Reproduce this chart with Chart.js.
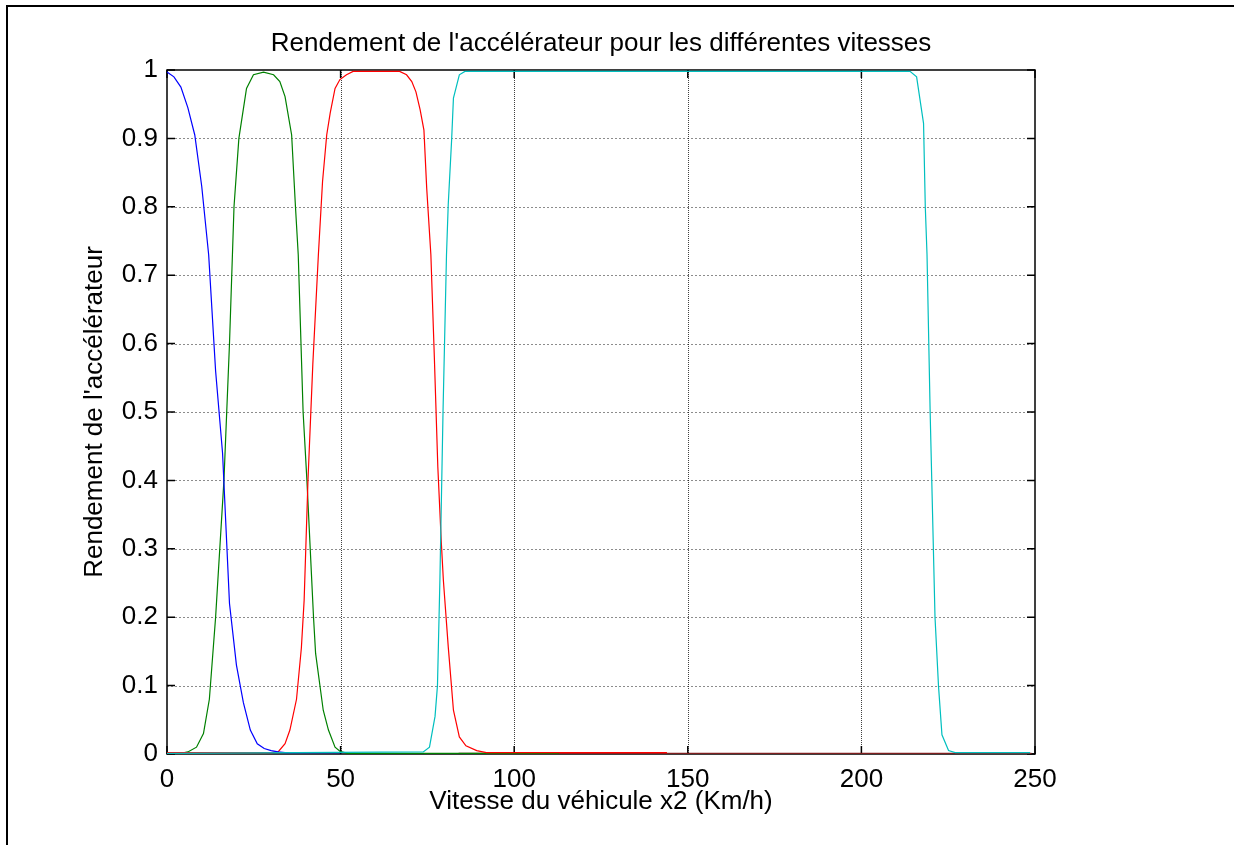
<!DOCTYPE html>
<html>
<head>
<meta charset="utf-8">
<script src="https://cdn.jsdelivr.net/npm/chart.js@4/dist/chart.umd.min.js"></script>
<style>
  html, body { margin: 0; padding: 0; background: #fff; overflow: hidden; }
  canvas { display: block; }
</style>
</head>
<body>
<canvas id="chart" width="1234" height="845"></canvas>
<script>
// Texts
const titleText = "Rendement de l'accélérateur pour les différentes vitesses";
const xAxisTitle = "Vitesse du véhicule x2 (Km/h)";
const yAxisTitle = "Rendement de l'accélérateur";

// Tick values and labels
const xTickValues = [0, 50, 100, 150, 200, 250];
const xTickLabels = ['0', '50', '100', '150', '200', '250'];
const yTickValues = [0, 0.1, 0.2, 0.3, 0.4, 0.5, 0.6, 0.7, 0.8, 0.9, 1];
const yTickLabels = ['0', '0.1', '0.2', '0.3', '0.4', '0.5', '0.6', '0.7', '0.8', '0.9', '1'];

// 1st gear (blue)
const gear1Speed = [0, 2, 4, 6, 8, 10, 12, 14, 16, 18, 20, 22, 24, 26, 28, 30, 32, 34, 50];
const gear1Yield = [0.997, 0.99, 0.975, 0.945, 0.905, 0.83, 0.73, 0.56, 0.44, 0.22, 0.13, 0.075, 0.035, 0.015, 0.008, 0.005, 0.003, 0.002, 0.002];

// 2nd gear (green)
const gear2Speed = [0, 4, 6, 8.5, 10.5, 12.2, 14, 16.4, 18, 19.3, 20.7, 22.9, 24.9, 27.8, 30.7, 32.5, 34, 35.9, 37, 37.8, 39.2, 40.3, 42.2, 42.8, 45, 46.5, 48.4, 49.8, 52, 113];
const gear2Yield = [0.001, 0.001, 0.003, 0.01, 0.03, 0.08, 0.2, 0.4, 0.6, 0.8, 0.9, 0.973, 0.993, 0.997, 0.993, 0.983, 0.961, 0.905, 0.8, 0.73, 0.5, 0.4, 0.2, 0.147, 0.064, 0.035, 0.01, 0.004, 0.001, 0.001];

// 3rd gear (red)
const gear3Speed = [0, 30, 32, 34, 35.4, 37.3, 38.7, 39.5, 40.6, 42, 43.6, 44.8, 46, 47, 48.4, 49.8, 51.7, 53.6, 67, 69, 70.5, 71.7, 72.9, 74, 74.8, 76, 77, 78, 79, 79.6, 81, 82.5, 84.2, 86.1, 89.2, 92, 144];
const gear3Yield = [0.002, 0.002, 0.003, 0.015, 0.035, 0.08, 0.155, 0.225, 0.4, 0.57, 0.73, 0.837, 0.905, 0.937, 0.973, 0.986, 0.993, 0.998, 0.998, 0.993, 0.983, 0.968, 0.942, 0.912, 0.827, 0.73, 0.58, 0.42, 0.31, 0.254, 0.157, 0.064, 0.025, 0.012, 0.005, 0.002, 0.002];

// 4th gear (cyan)
const gear4Speed = [0, 73.8, 75.6, 77.2, 77.9, 78.6, 79.5, 80.5, 81, 82, 82.5, 84.2, 85.8, 214, 215.9, 217.9, 218.4, 218.9, 219.8, 221.2, 222.2, 223.2, 225.1, 227, 248.6];
const gear4Yield = [0.001, 0.003, 0.01, 0.055, 0.1, 0.254, 0.5, 0.73, 0.803, 0.9, 0.959, 0.993, 0.998, 0.998, 0.99, 0.922, 0.8, 0.73, 0.5, 0.2, 0.1, 0.028, 0.005, 0.002, 0.002];

// Other gears, idle at zero over the range
const gear5Speed = [84, 249];
const gear5Yield = [0.001, 0.001];
const gear6Speed = [106, 113];
const gear6Yield = [0.002, 0.002];

const FONT = '"Liberation Sans", Arial, Helvetica, sans-serif';
const FONT_SIZE = 26;

function points(speed, values) {
  return speed.map((s, i) => ({ x: s, y: values[i] }));
}

function lineSet(speed, values, color) {
  return {
    data: points(speed, values),
    borderColor: color,
    backgroundColor: color,
    borderWidth: 1.2,
    pointRadius: 0,
    tension: 0,
    fill: false
  };
}

// Page frame, MATLAB-like dotted grid, axes box and inward ticks, texts
const matlabFrame = {
  id: 'matlabFrame',
  beforeDraw(chart) {
    const ctx = chart.ctx;
    ctx.save();
    ctx.fillStyle = '#fff';
    ctx.fillRect(0, 0, chart.width, chart.height);
    ctx.strokeStyle = '#000';
    ctx.lineWidth = 2;
    ctx.strokeRect(7, 6, 1400, 1000);
    ctx.restore();
  },
  beforeDatasetsDraw(chart) {
    const ctx = chart.ctx;
    const { left, right, top, bottom } = chart.chartArea;
    const xs = chart.scales.x, ys = chart.scales.y;
    ctx.save();
    // horizontal grid
    ctx.setLineDash([2, 2]);
    ctx.strokeStyle = 'rgba(0,0,0,0.45)';
    ctx.lineWidth = 1;
    yTickValues.forEach(v => {
      if (v === 0 || v === 1) return;
      const y = Math.round(ys.getPixelForValue(v)) + 0.5;
      ctx.beginPath(); ctx.moveTo(left, y); ctx.lineTo(right, y); ctx.stroke();
    });
    // vertical grid
    ctx.setLineDash([1, 1]);
    ctx.strokeStyle = 'rgba(0,0,0,0.75)';
    xTickValues.forEach(v => {
      if (v === 0 || v === 250) return;
      const x = Math.round(xs.getPixelForValue(v)) + 0.5;
      ctx.beginPath(); ctx.moveTo(x, top); ctx.lineTo(x, bottom); ctx.stroke();
    });
    ctx.setLineDash([]);
    // box
    ctx.strokeStyle = '#000';
    ctx.lineWidth = 1.5;
    ctx.strokeRect(left, top, right - left, bottom - top);
    // inward ticks
    ctx.lineWidth = 1.5;
    const tl = 8;
    yTickValues.forEach(v => {
      const y = ys.getPixelForValue(v);
      ctx.beginPath();
      ctx.moveTo(left, y); ctx.lineTo(left + tl, y);
      ctx.moveTo(right, y); ctx.lineTo(right - tl, y);
      ctx.stroke();
    });
    xTickValues.forEach(v => {
      const x = xs.getPixelForValue(v);
      ctx.beginPath();
      ctx.moveTo(x, bottom); ctx.lineTo(x, bottom - tl);
      ctx.moveTo(x, top); ctx.lineTo(x, top + tl);
      ctx.stroke();
    });
    ctx.restore();
  },
  afterDraw(chart) {
    const ctx = chart.ctx;
    const { left, right, top, bottom } = chart.chartArea;
    const cx = (left + right) / 2;
    ctx.save();
    ctx.fillStyle = '#000';
    ctx.font = FONT_SIZE + 'px ' + FONT;
    ctx.textAlign = 'center';
    ctx.textBaseline = 'middle';
    ctx.fillText(titleText, cx, top - 26);
    ctx.fillText(xAxisTitle, cx, bottom + 48);
    ctx.translate(95, (top + bottom) / 2);
    ctx.rotate(-Math.PI / 2);
    ctx.fillText(yAxisTitle, 0, 0);
    ctx.restore();
  }
};

new Chart(document.getElementById('chart'), {
  type: 'line',
  data: {
    datasets: [
      lineSet(gear4Speed, gear4Yield, '#00bfbf'),
      lineSet(gear1Speed, gear1Yield, '#0000ff'),
      lineSet(gear3Speed, gear3Yield, '#ff0000'),
      lineSet(gear2Speed, gear2Yield, '#008000'),
      lineSet(gear6Speed, gear6Yield, '#bf00bf'),
      lineSet(gear5Speed, gear5Yield, '#7f1f1f')
    ]
  },
  options: {
    responsive: false,
    animation: false,
    devicePixelRatio: 1,
    layout: { padding: { top: 70, right: 199, bottom: 0, left: 0 } },
    plugins: {
      legend: { display: false },
      tooltip: { enabled: false },
      title: { display: false }
    },
    scales: {
      x: {
        type: 'linear',
        min: 0,
        max: 250,
        afterBuildTicks(scale) { scale.ticks = xTickValues.map(v => ({ value: v })); },
        afterFit(scale) { scale.height = 91; },
        grid: { display: false, drawTicks: false },
        border: { display: false },
        ticks: {
          padding: 10,
          color: '#000',
          font: { family: FONT, size: FONT_SIZE },
          maxRotation: 0,
          callback: (v, i) => xTickLabels[i]
        }
      },
      y: {
        type: 'linear',
        min: 0,
        max: 1,
        afterBuildTicks(scale) { scale.ticks = yTickValues.map(v => ({ value: v })); },
        afterFit(scale) { scale.width = 167; },
        grid: { display: false, drawTicks: false },
        border: { display: false },
        ticks: {
          padding: 9,
          color: '#000',
          font: { family: FONT, size: FONT_SIZE },
          callback: (v, i) => yTickLabels[i]
        }
      }
    }
  },
  plugins: [matlabFrame]
});
</script>
</body>
</html>
